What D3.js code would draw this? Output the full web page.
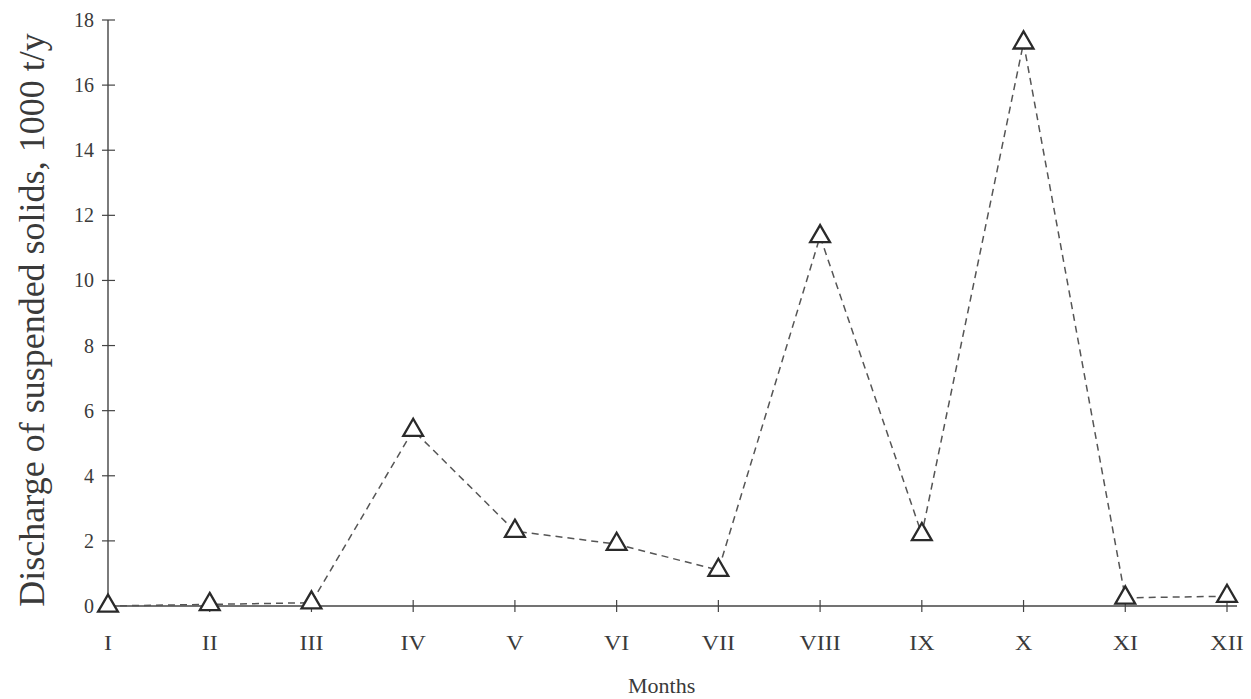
<!DOCTYPE html>
<html>
<head>
<meta charset="utf-8">
<script src="https://cdn.jsdelivr.net/npm/d3@7"></script>
<style>
  body { margin: 0; background: #fff; }
  text { font-family: "Liberation Serif", "DejaVu Serif", serif; fill: #3a3a3a; }
</style>
</head>
<body>
<figure id="chart" style="margin:0"></figure>
<script>
// data
const months = ["I", "II", "III", "IV", "V", "VI", "VII", "VIII", "IX", "X", "XI", "XII"];
const discharge = [0.0, 0.05, 0.1, 5.4, 2.3, 1.9, 1.1, 11.35, 2.2, 17.3, 0.25, 0.3];
const yTicks = [0, 2, 4, 6, 8, 10, 12, 14, 16, 18];

let dimensions = {
    width: 1251,
    height: 699,
    margin: { top: 20, right: 14, bottom: 93, left: 108 },
};
dimensions.boundedWidth = dimensions.width - dimensions.margin.left - dimensions.margin.right;
dimensions.boundedHeight = dimensions.height - dimensions.margin.top - dimensions.margin.bottom;

const svg = d3.select("figure#chart")
    .append("svg")
    .attr("width", dimensions.width)
    .attr("height", dimensions.height);

const g = svg.append("g")
    .attr("transform", `translate(${dimensions.margin.left}, ${dimensions.margin.top})`);

const xScale = d3.scalePoint()
    .domain(months)
    .range([0, 1119]);

const yScale = d3.scaleLinear()
    .domain([0, 18])
    .range([dimensions.boundedHeight, 0]);

// x axis: line, crossing ticks, labels below
const xAxis = g.append("g")
    .attr("transform", `translate(0, ${dimensions.boundedHeight})`);
xAxis.append("line")
    .attr("x1", 0).attr("x2", dimensions.boundedWidth)
    .attr("stroke", "#444").attr("stroke-width", 1.4);
xAxis.selectAll(".xt")
    .data(months.slice(1))
    .enter().append("line")
    .attr("x1", d => xScale(d)).attr("x2", d => xScale(d))
    .attr("y1", -6).attr("y2", 6)
    .attr("stroke", "#444").attr("stroke-width", 1.2);
xAxis.selectAll(".xl")
    .data(months)
    .enter().append("text")
    .attr("transform", d => `translate(${xScale(d)}, 44) scale(1.2, 1)`)
    .attr("text-anchor", "middle")
    .attr("font-size", 20)
    .text(d => d);

// y axis
const yAxis = g.append("g");
yAxis.append("line")
    .attr("y1", 0).attr("y2", dimensions.boundedHeight)
    .attr("stroke", "#444").attr("stroke-width", 1.4);
yAxis.selectAll(".yt")
    .data(yTicks.slice(1))
    .enter().append("line")
    .attr("x1", -6).attr("x2", 7)
    .attr("y1", d => yScale(d)).attr("y2", d => yScale(d))
    .attr("stroke", "#444").attr("stroke-width", 1.2);
yAxis.selectAll(".yl")
    .data(yTicks)
    .enter().append("text")
    .attr("x", -14)
    .attr("y", d => yScale(d))
    .attr("dy", "0.35em")
    .attr("text-anchor", "end")
    .attr("font-size", 20)
    .text(d => d);

// axis titles
svg.append("text")
    .attr("transform", `translate(44, ${dimensions.margin.top + dimensions.boundedHeight / 2 + 7}) rotate(-90)`)
    .attr("text-anchor", "middle")
    .attr("font-size", 36)
    .text("Discharge of suspended solids, 1000 t/y");

svg.append("text")
    .attr("x", dimensions.margin.left + xScale("VI") + 45)
    .attr("y", 693)
    .attr("text-anchor", "middle")
    .attr("font-size", 22)
    .text("Months");

// dashed series line
const line = d3.line()
    .x((d, i) => xScale(months[i]))
    .y(d => yScale(d));

g.append("path")
    .datum(discharge)
    .attr("d", line)
    .attr("fill", "none")
    .attr("stroke", "#555")
    .attr("stroke-width", 1.5)
    .attr("stroke-dasharray", "7,5");

// open triangle markers
const tri = d3.symbol().type(d3.symbolTriangle).size(170);
g.selectAll(".mark")
    .data(discharge)
    .enter().append("path")
    .attr("d", tri)
    .attr("transform", (d, i) => `translate(${xScale(months[i])}, ${yScale(d)})`)
    .attr("fill", "#fff")
    .attr("stroke", "#2a2a2a")
    .attr("stroke-width", 2.3);
</script>
</body>
</html>
